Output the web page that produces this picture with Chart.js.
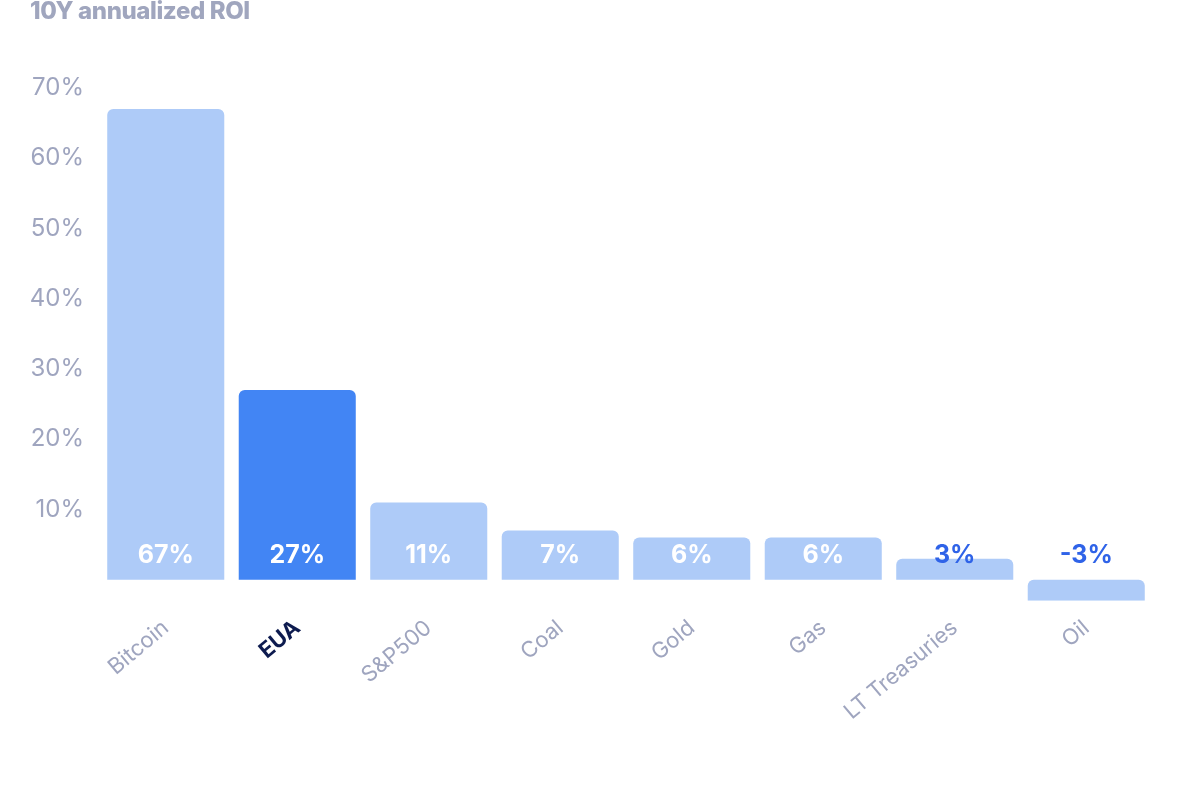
<!DOCTYPE html>
<html>
<head>
<meta charset="utf-8">
<script src="https://cdn.jsdelivr.net/npm/chart.js@4"></script>
<style>
  html, body { margin: 0; padding: 0; background: #fff; }
  #wrap { position: relative; width: 1188px; height: 800px; }
  #title { position: absolute; left: 30px; top: -4px; font: 800 24px Inter, sans-serif; color: #a0a6be; letter-spacing: -0.4px; }
</style>
</head>
<body>
<div id="wrap">
  <div id="title">10Y annualized ROI</div>
  <canvas id="roiChart" width="1188" height="800"></canvas>
</div>
<script>
// data
const categories = ['Bitcoin', 'EUA', 'S&P500', 'Coal', 'Gold', 'Gas', 'LT Treasuries', 'Oil'];
const roiValues = [67, 27, 11, 7, 6, 6, 3, -3];
const yTicks = [10, 20, 30, 40, 50, 60, 70];
const highlight = 'EUA';

const lightBlue = '#aecbf8';
const strongBlue = '#4285f4';
const greyText = '#9fa5bf';

// value labels sit just above the zero line
const valueLabels = {
    id: 'valueLabels',
    afterDatasetsDraw(chart) {
        const { ctx, scales: { x, y } } = chart;
        const yPos = y.getPixelForValue(0) - 24;
        ctx.save();
        ctx.font = '700 25px Inter, sans-serif';
        ctx.textAlign = 'center';
        ctx.textBaseline = 'middle';
        roiValues.forEach((v, i) => {
            ctx.fillStyle = v >= 5 ? '#ffffff' : '#2f63e8';
            ctx.fillText(v + '%', x.getPixelForValue(i), yPos);
        });
        ctx.restore();
    }
};

new Chart(document.getElementById('roiChart'), {
    type: 'bar',
    data: {
        labels: categories,
        datasets: [{
            data: roiValues,
            backgroundColor: categories.map(c => c === highlight ? strongBlue : lightBlue),
            borderRadius: { topLeft: 6, topRight: 6, bottomLeft: 0, bottomRight: 0 },
            borderSkipped: false,
            borderWidth: 0,
            categoryPercentage: 1,
            barPercentage: 0.89
        }]
    },
    options: {
        responsive: false,
        animation: false,
        layout: { padding: { top: 88, right: 36, bottom: 69, left: 0 } },
        plugins: { legend: { display: false }, tooltip: { enabled: false } },
        scales: {
            x: {
                grid: { display: false },
                border: { display: false },
                ticks: {
                    maxRotation: 40,
                    minRotation: 40,
                    padding: 6,
                    font: ctx => ({ family: 'Inter, sans-serif', size: 22, weight: categories[ctx.index] === highlight ? '700' : '400' }),
                    color: ctx => categories[ctx.index] === highlight ? '#0d1b4f' : greyText
                }
            },
            y: {
                min: -3,
                max: 70,
                afterBuildTicks: axis => { axis.ticks = yTicks.map(v => ({ value: v })); },
                grid: { display: false },
                border: { display: false },
                afterFit: axis => { axis.width = 100; },
                ticks: {
                    padding: 8,
                    font: { family: 'Inter, sans-serif', size: 24 },
                    color: greyText,
                    callback: v => v + '%'
                }
            }
        }
    },
    plugins: [valueLabels]
});
</script>
</body>
</html>
